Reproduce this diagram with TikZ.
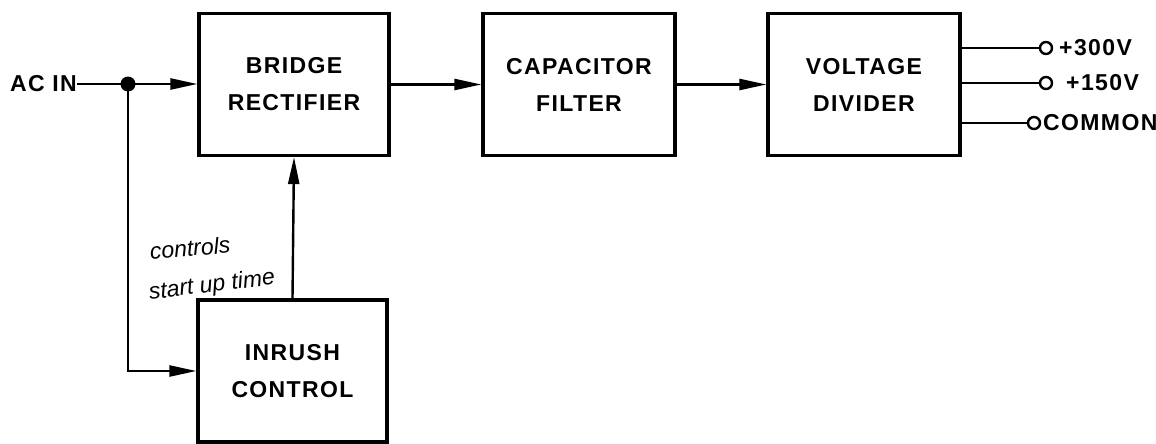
\documentclass[tikz,border=0pt]{standalone}
\usepackage{fontspec}
\setmainfont{Liberation Sans}
\newfontfamily\labfont{Liberation Sans}[LetterSpace=6]
\usetikzlibrary{arrows.meta}
\tikzset{
  blk/.style={draw, line width=3.2pt, minimum height=142pt, inner sep=0pt, align=center,
    font=\labfont\bfseries\fontsize{23}{37}\selectfont},
  lbl/.style={inner sep=0pt, font=\labfont\bfseries\fontsize{23}{25}\selectfont},
  wire/.style={line width=2.4pt},
  arr/.style={wire, -{Triangle[length=27pt,width=11pt]}},
  term/.style={circle, draw, line width=2.4pt, minimum size=12pt, inner sep=0pt},
  hand/.style={inner sep=0pt, font=\itshape\fontsize{23}{25}\selectfont}
}
\begin{document}
\begin{tikzpicture}[x=1pt,y=-1pt]
\useasboundingbox (0,0) rectangle (1156,444);
\node[blk, minimum width=190pt] (bridge) at (294,84.5) {BRIDGE\\RECTIFIER};
\node[blk, minimum width=192pt] (cap) at (579,84.5) {CAPACITOR\\FILTER};
\node[blk, minimum width=192pt] (div) at (864,84.5) {VOLTAGE\\DIVIDER};
\node[blk, minimum width=189pt] (inrush) at (292.5,371) {INRUSH\\CONTROL};
\node[lbl, anchor=east] (acin) at (77,84) {AC IN};
\node[circle, fill, minimum size=15pt, inner sep=0pt] (dot) at (128,84) {};
\draw[wire] (acin.east) -- (dot.center);
\draw[arr] (dot.center) -- (bridge.west |- dot.center);
\draw[arr] (dot.center) |- (inrush.west);
\draw[arr] (inrush.north) -- (bridge.south);
\draw[arr] (bridge.east) -- (cap.west);
\draw[arr] (cap.east) -- (div.west);
\node[term] (o1) at (1046,48) {};
\node[term] (o2) at (1046,83) {};
\node[term] (o3) at (1034,123) {};
\draw[wire] (o1 -| div.east) -- (o1);
\draw[wire] (o2 -| div.east) -- (o2);
\draw[wire] (o3 -| div.east) -- (o3);
\node[lbl, anchor=west] (v1) at (1059,48) {+300V};
\node[lbl, anchor=west] (v2) at (1066,83) {+150V};
\node[lbl, anchor=west] (v3) at (1043,123) {COMMON};
\node[hand, rotate=5] (h1) at (190,248) {controls};
\node[hand, rotate=7] (h2) at (212,286) {start up time};
\end{tikzpicture}
\end{document}
